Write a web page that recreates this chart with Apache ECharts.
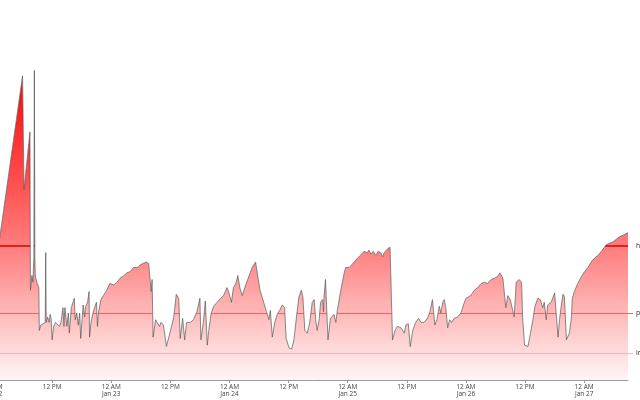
<!DOCTYPE html>
<html><head><meta charset="utf-8">
<script src="https://cdn.jsdelivr.net/npm/echarts@6/dist/echarts.min.js"></script>
<style>html,body{margin:0;padding:0;background:#fff;overflow:hidden}#c{width:640px;height:400px}</style>
</head><body><div id="c"></div>
<script>
// hours since Jan 22, 12 AM
const hours = [
  0,1.4,6.0,6.3,7.5,7.6,7.9,8.1,8.3,8.4,
  8.5,8.6,9.0,9.3,9.4,9.7,10.1,10.6,10.7,10.8,
  11.1,11.4,11.6,11.8,12.0,12.3,12.7,13.1,13.5,13.8,
  14.2,14.4,14.6,15.0,15.3,15.5,15.9,16.2,16.5,16.7,
  17.0,17.3,17.6,17.8,18.3,18.6,18.8,19.2,19.5,19.6,
  19.9,20.3,20.7,21.0,21.2,21.4,21.9,22.4,23.1,23.7,
  24.5,25.2,25.8,26.6,27.2,27.9,28.5,29.4,29.9,31.1,
  31.6,32.1,32.3,32.5,33.0,33.4,33.8,34.1,34.6,35.2,
  35.9,36.7,37.2,37.7,38.0,38.5,38.9,39.3,40.1,40.7,
  41.4,42.0,42.2,42.7,43.1,43.5,43.8,44.3,44.8,45.5,
  46.2,46.8,47.5,47.9,48.4,48.8,49.3,49.7,50.1,50.6,
  51.3,51.9,52.6,53.3,53.6,54.2,54.7,55.1,55.5,56.0,
  56.3,56.7,57.2,57.7,58.2,58.7,59.2,59.5,60.1,60.6,
  61.1,61.6,62.1,62.6,62.9,63.3,63.8,64.3,64.8,65.2,
  65.5,65.8,66.2,66.5,66.9,67.1,67.2,67.5,67.7,68.0,
  68.5,69.2,69.6,69.9,70.6,71.3,71.6,72.3,72.8,73.3,
  74.0,74.6,75.3,76.0,76.3,76.7,77.2,77.7,78.2,78.7,
  79.1,79.4,80.1,80.6,80.7,81.1,81.6,82.1,82.8,83.1,
  83.5,83.8,84.3,84.7,85.2,85.8,86.4,86.9,87.5,88.2,
  88.7,89.2,89.4,89.7,90.1,90.6,90.9,91.3,91.6,91.9,
  92.3,92.7,93.1,93.6,94.3,95.0,95.5,96.0,96.5,97.0,
  97.7,98.4,99.1,99.7,100.4,101.1,101.8,102.4,102.9,103.5,
  104.1,104.5,104.8,105.0,105.8,106.2,106.8,107.3,107.5,107.9,
  108.6,109.1,109.6,110.0,110.6,111.1,111.6,111.9,112.3,112.6,
  113.3,113.6,114.0,114.3,114.7,115.0,115.3,115.7,116.0,116.4,
  117.0,117.4,117.6,118.0,118.7,119.4,120.1,120.8,121.4,122.1,
  122.8,123.5,124.1,124.5,125.1,125.8,126.5,127.2,127.9,128.3,128.9
];
const values = [
  70,107,227,142,185,67,78,73,92,231,
  90,77,72,69,37,41,40,43,95,43,
  47,43,49,46,30,40,43,43,40,43,
  54,40,54,40,50,35,54,55,61,45,
  50,41,50,31,56,47,55,58,66,32,
  43,50,55,58,40,50,60,63,67,72,
  71,73,76,78,80,81,84,84,86,88,
  87,66,75,32,45,45,40,43,41,25,
  35,47,64,61,31,46,30,43,43,45,
  51,61,30,43,59,26,37,50,55,58,
  61,63,69,65,58,69,72,78,69,63,
  71,77,84,88,81,67,61,60,51,45,
  52,32,43,49,52,56,54,31,24,23,
  30,47,62,67,62,37,35,43,58,60,
  45,37,45,58,60,51,63,75,75,30,
  46,49,43,52,67,80,84,84,86,88,
  91,93,96,95,97,94,96,93,96,95,
  92,95,98,99,99,30,37,40,39,40,
  35,41,42,25,37,43,46,43,43,46,
  51,60,61,41,45,55,50,58,60,54,
  39,45,43,46,47,50,56,61,62,63,
  67,69,72,73,72,75,76,77,80,76,
  54,63,63,60,47,73,75,73,47,26,
  25,35,45,55,61,60,54,58,45,56,
  58,61,65,64,32,45,54,64,62,30,
  35,46,61,66,72,77,81,84,88,91,
  93,96,99,101,102,103,105,107,108,108,110
];
const tickHours = [0,12,24,36,48,60,72,84,96,108,120];
const dayNames = ['Jan 22','Jan 23','Jan 24','Jan 25','Jan 26','Jan 27'];
const levelValues = [100,50,20];
const levelNames = ['high','par','init'];
const levelColors = ['#dd0000','#ff5c5c','#ffb0b0'];
const levelWidths = [1.5,1,1];

const data = hours.map((h,i)=>[h, values[i]]);
const FONT = 'Open Sans';
const chart = echarts.init(document.getElementById('c'), null, {renderer:'canvas'});

const yAxes = levelValues.map((v,i)=>({
  type:'value', position:'right', min:0, max:250,
  axisLine:{show:false}, splitLine:{show:false},
  axisTick:{show:true, customValues:[v], length:5, lineStyle:{color:levelColors[i], width:levelWidths[i]}},
  axisLabel:{show:true, customValues:[v], formatter:()=>levelNames[i], fontSize:7, color:'#333', margin:8, fontFamily:FONT}
}));

chart.setOption({
  animation:false,
  backgroundColor:'#fff',
  grid:{left:-7, right:12, top:45, bottom:20, containLabel:false, outerBoundsMode:'none'},
  xAxis:{
    type:'value', min:0, max:hours[hours.length-1], z:10,
    splitLine:{show:false},
    axisLine:{lineStyle:{color:'#999', width:1}},
    axisTick:{customValues:tickHours, length:3, lineStyle:{color:'#999'}},
    axisLabel:{customValues:tickHours, fontSize:6.5, lineHeight:7, color:'#444', margin:4, fontFamily:FONT,
      formatter:(v)=> (v % 24 === 0) ? '12 AM\n' + dayNames[v/24] : '12 PM'}
  },
  yAxis: yAxes,
  series:[
    {
      type:'line', data:data, symbol:'none', z:2,
      lineStyle:{width:0},
      areaStyle:{opacity:1, color:new echarts.graphic.LinearGradient(0,0,0,1,[
        {offset:0, color:'#ff0000'},{offset:0.58, color:'#ff8080'},{offset:1, color:'#fff5f5'}])},
      markLine:{
        silent:true, symbol:['none','none'], label:{show:false},
        data: levelValues.map((v,i)=>({yAxis:v, lineStyle:{color:levelColors[i], width:levelWidths[i], type:'solid'}}))
      }
    },
    {
      type:'line', data:data, symbol:'none', z:8,
      lineStyle:{color:'#555', width:0.7},
      areaStyle:{color:'#fff', opacity:1, origin:'end'}
    }
  ]
});
</script>
</body></html>
